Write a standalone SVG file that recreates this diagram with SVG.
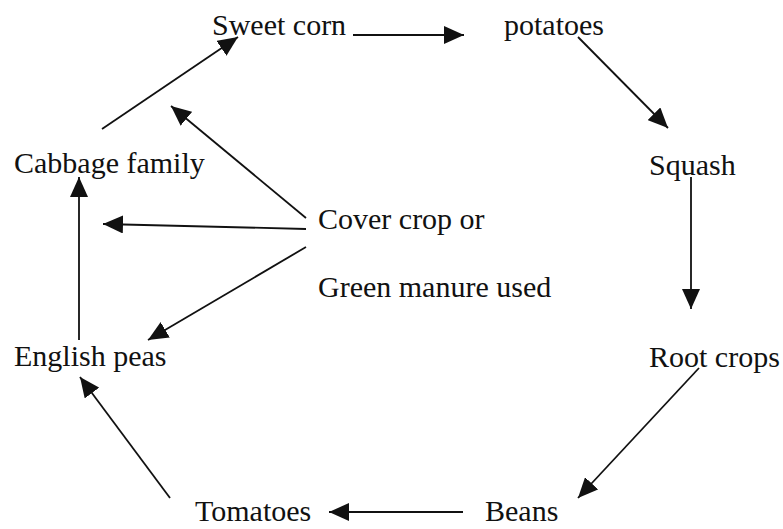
<svg xmlns="http://www.w3.org/2000/svg" width="783" height="529" viewBox="0 0 783 529">
<style>
text{font-family:"Liberation Serif","Times New Roman",serif;font-size:30px;fill:#111}
.c{stroke:#111;stroke-width:1.8;fill:none;marker-end:url(#ah)}
</style>
<defs>
<marker id="ah" markerUnits="userSpaceOnUse" viewBox="0 0 20 18" refX="20" refY="9" markerWidth="20" markerHeight="18" orient="auto">
<path d="M0,0 L20,9 L0,18 z" fill="#111"/>
</marker>
</defs>
<rect width="783" height="529" fill="#fff"/>
<g id="n-sweetcorn"><text x="212" y="35">Sweet corn</text></g>
<g id="n-potatoes"><text x="504" y="35">potatoes</text></g>
<g id="n-squash"><text x="649" y="175">Squash</text></g>
<g id="n-rootcrops"><text x="649" y="367">Root crops</text></g>
<g id="n-beans"><text x="485" y="521">Beans</text></g>
<g id="n-tomatoes"><text x="195" y="521">Tomatoes</text></g>
<g id="n-englishpeas"><text x="14" y="366">English peas</text></g>
<g id="n-cabbage"><text x="14" y="173">Cabbage family</text></g>
<g id="n-cover"><text x="318" y="229">Cover crop or</text><text x="318" y="297">Green manure used</text></g>
<g id="connectors">
<line class="c" x1="353" y1="35" x2="464" y2="35"/>
<line class="c" x1="578" y1="37" x2="668" y2="128"/>
<line class="c" x1="691" y1="177" x2="691" y2="309"/>
<line class="c" x1="699" y1="368" x2="578" y2="498"/>
<line class="c" x1="463" y1="512" x2="329" y2="512"/>
<line class="c" x1="170" y1="498" x2="80" y2="377"/>
<line class="c" x1="79" y1="340" x2="79" y2="177"/>
<line class="c" x1="102" y1="129" x2="238" y2="37"/>
<line class="c" x1="306" y1="218" x2="171" y2="106"/>
<line class="c" x1="306" y1="229" x2="103" y2="224"/>
<line class="c" x1="306" y1="247" x2="148" y2="340"/>
</g>
</svg>
